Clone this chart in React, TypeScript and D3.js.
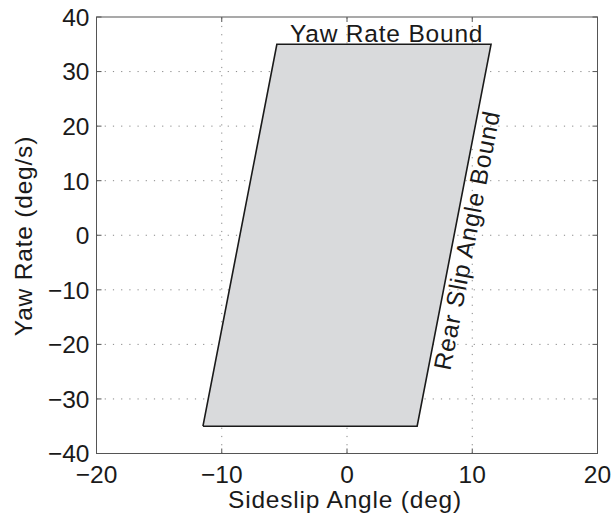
import React from "react";
import * as d3 from "d3";

const xTicks = [-20, -10, 0, 10, 20];
const yTicks = [-40, -30, -20, -10, 0, 10, 20, 30, 40];
const regionX = [-11.5, 5.6, 11.5, -5.6];
const regionY = [-35, -35, 35, 35];
const xLabel = "Sideslip Angle (deg)";
const yLabel = "Yaw Rate (deg/s)";
const topLabel = "Yaw Rate Bound";
const sideLabel = "Rear Slip Angle Bound";

const W = 612, H = 517;
const L = 96.5, R = 597.5, T = 17, B = 453.5;
const FONT = "'Liberation Sans', Arial, Helvetica, sans-serif";
const FS = 24.5;
const LS = 0.8;

export default function App() {
  const x = d3.scaleLinear().domain([-20, 20]).range([L, R]);
  const y = d3.scaleLinear().domain([-40, 40]).range([B, T]);
  const pts: [number, number][] = regionX.map((v, i) => [x(v), y(regionY[i])]);
  const line = d3.line()(pts.concat([pts[0]])) || "";
  const tick = 5;
  const txtColor = "#1a1a1a";
  const axColor = "#555";

  // side label along the right edge
  const ex1 = x(regionX[1]), ey1 = y(regionY[1]);
  const ex2 = x(regionX[2]), ey2 = y(regionY[2]);
  const ang = (Math.atan2(ey2 - ey1, ex2 - ex1) * 180) / Math.PI;
  const f = 0.155;
  const px = ex1 + (ex2 - ex1) * f;
  const py = ey1 + (ey2 - ey1) * f;

  const fmt = (t: number) => (t < 0 ? "\u2212" + Math.abs(t) : String(t));

  return (
    <svg width={W} height={H} style={{ position: "absolute", left: 0, top: 0, background: "#fff" }}>
      <rect x={0} y={0} width={W} height={H} fill="#fff" />
      {/* grid */}
      <g stroke="#888" strokeWidth={1} strokeDasharray="1.2,7">
        {xTicks.filter((t) => t > -20 && t < 20).map((t) => (
          <line key={"gx" + t} x1={x(t)} x2={x(t)} y1={B} y2={T} />
        ))}
        {yTicks.filter((t) => t > -40 && t < 40).map((t) => (
          <line key={"gy" + t} x1={L} x2={R} y1={y(t)} y2={y(t)} />
        ))}
      </g>
      {/* region */}
      <path d={line} fill="#d9dadc" stroke="#1a1a1a" strokeWidth={1.6} strokeLinejoin="miter" />
      {/* axes box */}
      <rect x={L} y={T} width={R - L} height={B - T} fill="none" stroke={axColor} strokeWidth={1} />
      <g stroke={axColor} strokeWidth={1}>
        {xTicks.map((t) => (
          <g key={"tx" + t}>
            <line x1={x(t)} x2={x(t)} y1={B} y2={B - tick} />
            <line x1={x(t)} x2={x(t)} y1={T} y2={T + tick} />
          </g>
        ))}
        {yTicks.map((t) => (
          <g key={"ty" + t}>
            <line x1={L} x2={L + tick} y1={y(t)} y2={y(t)} />
            <line x1={R} x2={R - tick} y1={y(t)} y2={y(t)} />
          </g>
        ))}
      </g>
      {/* tick labels */}
      <g fontFamily={FONT} fontSize={FS} fill={txtColor}>
        {xTicks.map((t) => (
          <text key={"lx" + t} x={x(t)} y={482.5} textAnchor="middle">
            {fmt(t)}
          </text>
        ))}
        {yTicks.map((t) => (
          <text key={"ly" + t} x={89.5} y={y(t)} dy="0.36em" textAnchor="end">
            {fmt(t)}
          </text>
        ))}
      </g>
      {/* axis labels */}
      <text x={(L + R) / 2 - 2} y={508} textAnchor="middle" fontFamily={FONT} fontSize={FS} letterSpacing={LS} fill={txtColor}>
        {xLabel}
      </text>
      <text
        transform={`translate(32,236) rotate(-90)`}
        textAnchor="middle"
        fontFamily={FONT}
        fontSize={FS}
        letterSpacing={LS}
        fill={txtColor}
      >
        {yLabel}
      </text>
      {/* annotations */}
      <text x={290} y={41.5} fontFamily={FONT} fontSize={FS} letterSpacing={LS} fill={txtColor}>
        {topLabel}
      </text>
      <text
        transform={`translate(${px},${py}) rotate(${ang})`}
        x={0}
        y={22}
        fontFamily={FONT}
        fontSize={FS}
        letterSpacing={LS}
        fill={txtColor}
      >
        {sideLabel}
      </text>
    </svg>
  );
}
